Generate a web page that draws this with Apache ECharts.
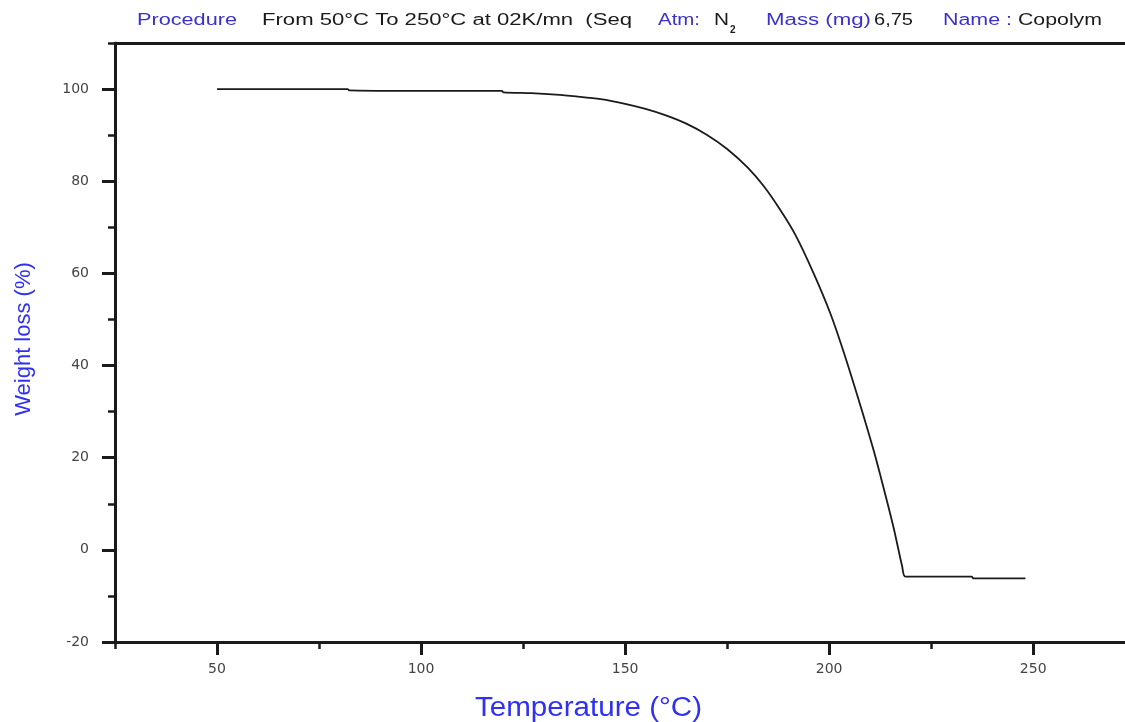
<!DOCTYPE html>
<html>
<head>
<meta charset="utf-8">
<title>TGA – Weight loss</title>
<script src="https://cdn.jsdelivr.net/npm/echarts@6/dist/echarts.min.js"></script>
<style>
  html, body { margin: 0; padding: 0; background: #fff; }
  #chart { width: 1125px; height: 722px; }
</style>
</head>
<body>
<div id="chart"></div>
<script>
// Thermogravimetric run: temperature (°C) and remaining weight (%)
const temperature = [
  50.0, 60.0, 70.0, 82.0, 82.5, 95.0, 110.0, 119.8, 120.2, 127.0,
  133.0, 138.0, 144.0, 150.0, 155.0, 160.0, 165.0, 170.0, 175.0, 180.0,
  184.0, 188.0, 191.7, 196.2, 200.3, 203.5, 207.6, 210.9, 213.3, 215.8,
  217.9, 218.7, 225.0, 235.0, 235.3, 242.0, 248.1
];
const weight = [
  100.0, 100.0, 100.0, 100.0, 99.7, 99.6, 99.6, 99.6, 99.3, 99.1,
  98.8, 98.4, 97.8, 96.8, 95.7, 94.3, 92.5, 90.1, 87.0, 83.0,
  78.9, 73.8, 68.4, 60.0, 51.3, 43.1, 31.5, 21.6, 13.6, 4.8,
  -3.6, -5.8, -5.8, -5.8, -6.2, -6.2, -6.2
];

// Tick values
const xMajorTicks = [50, 100, 150, 200, 250];
const xMinorTicks = [25, 75, 125, 175, 225];
const yMajorTicks = [-20, 0, 20, 40, 60, 80, 100];
const yMinorTicks = [-10, 10, 30, 50, 70, 90, 110];

// Header line of the instrument report
const headerTexts = ['Procedure', 'From 50°C To 250°C at 02K/mn  (Seq', 'Atm:', 'N', 'Mass (mg)', '6,75', 'Name :', 'Copolym'];
const headerIsLabel = [true, false, true, false, true, false, true, false];
const xName = 'Temperature (°C)';
const yName = 'Weight loss (%)';

// ---- layout ----
const LABEL_BLUE = '#3a30cc';
const NAME_BLUE = '#3030f2';
const INK = '#1a1a1a';
const TICK_TEXT = '#444';
const headerSpans = [[137, 237], [262, 632], [658, 700], [714, 729], [766, 871], [874, 913], [943, 1012], [1018, 1102]];

const measureCtx = document.createElement('canvas').getContext('2d');
function textWidth(text, font) {
  measureCtx.font = font;
  return measureCtx.measureText(text).width;
}
// text stretched horizontally to fill [left, right]
function spanText(text, left, right, y, fill, font) {
  const w = textWidth(text, font);
  return {
    type: 'text', x: left, y: y,
    scaleX: (right - left) / w, scaleY: 1,
    style: { text: text, font: font, fill: fill, textAlign: 'left', textVerticalAlign: 'middle' },
    silent: true
  };
}

const headerFont = '16px "Liberation Sans", Arial, sans-serif';
const graphics = headerTexts.map((t, i) =>
  spanText(t, headerSpans[i][0], headerSpans[i][1], 21, headerIsLabel[i] ? LABEL_BLUE : INK, headerFont));
// subscript of N2
graphics.push({
  type: 'text', x: 730, y: 30, silent: true,
  style: { text: '2', font: 'bold 10px "Liberation Sans", Arial, sans-serif', fill: INK, textAlign: 'left', textVerticalAlign: 'middle' }
});
// axis names
graphics.push(spanText(xName, 475, 702, 709, NAME_BLUE, '27px "Liberation Sans", Arial, sans-serif'));
graphics.push({
  type: 'text', x: 24, y: 339, rotation: Math.PI / 2, silent: true,
  style: { text: yName, font: '22px "Liberation Sans", Arial, sans-serif', fill: NAME_BLUE, textAlign: 'center', textVerticalAlign: 'middle' }
});

const tickFont = { color: TICK_TEXT, fontFamily: '"DejaVu Sans", sans-serif', fontSize: 14 };
const X_MIN = 25, X_MAX = 272.5, Y_MIN = -20, Y_MAX = 110;

const option = {
  animation: false,
  backgroundColor: '#fff',
  grid: { left: 115, right: 0, top: 43, bottom: 80, containLabel: false },
  graphic: { elements: graphics },
  xAxis: [
    {
      type: 'value', min: X_MIN, max: X_MAX, position: 'bottom',
      axisLine: { show: true, onZero: false, lineStyle: { color: INK, width: 3 } },
      axisTick: { show: true, customValues: xMajorTicks, length: 13, lineStyle: { color: INK, width: 3 } },
      axisLabel: Object.assign({ customValues: xMajorTicks, margin: 20 }, tickFont),
      splitLine: { show: false }
    },
    {
      type: 'value', min: X_MIN, max: X_MAX, position: 'bottom',
      axisLine: { show: false, onZero: false },
      axisTick: { show: true, customValues: xMinorTicks, length: 7, lineStyle: { color: INK, width: 2.5 } },
      axisLabel: { show: false },
      splitLine: { show: false }
    },
    {
      type: 'value', min: X_MIN, max: X_MAX, position: 'top',
      axisLine: { show: true, onZero: false, lineStyle: { color: INK, width: 3 } },
      axisTick: { show: false },
      axisLabel: { show: false },
      splitLine: { show: false }
    }
  ],
  yAxis: [
    {
      type: 'value', min: Y_MIN, max: Y_MAX, position: 'left',
      axisLine: { show: true, onZero: false, lineStyle: { color: INK, width: 3 } },
      axisTick: { show: true, customValues: yMajorTicks, length: 13, lineStyle: { color: INK, width: 3 } },
      axisLabel: Object.assign({ customValues: yMajorTicks, margin: 26 }, tickFont),
      splitLine: { show: false }
    },
    {
      type: 'value', min: Y_MIN, max: Y_MAX, position: 'left', offset: 0,
      axisLine: { show: false, onZero: false },
      axisTick: { show: true, customValues: yMinorTicks, length: 7, lineStyle: { color: INK, width: 2.5 } },
      axisLabel: { show: false },
      splitLine: { show: false }
    }
  ],
  series: [
    {
      type: 'line',
      xAxisIndex: 0, yAxisIndex: 0,
      data: temperature.map((t, i) => [t, weight[i]]),
      showSymbol: false, symbol: 'none',
      smooth: 0.3,
      lineStyle: { color: INK, width: 1.8 },
      silent: true
    }
  ]
};

const chart = echarts.init(document.getElementById('chart'), null, { renderer: 'canvas' });
chart.setOption(option);
</script>
</body>
</html>
